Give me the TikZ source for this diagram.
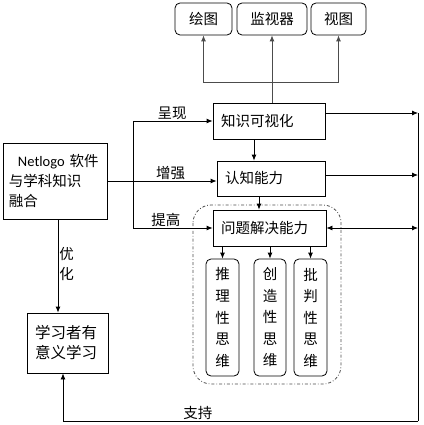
\documentclass[tikz,border=0pt]{standalone}
\usepackage{fontspec}
\setmainfont{Noto Sans CJK SC}
\newfontfamily\latinfont{Carlito}
\usetikzlibrary{arrows.meta}

\begin{document}
\begin{tikzpicture}[x=1pt, y=-1pt, line width=0.8pt, >={Latex[length=6pt, width=5pt]},
	font=\fontsize{14.5}{20}\selectfont,
	box/.style={draw, inner xsep=8pt, inner ysep=0pt, align=left},
	rbox/.style={draw, rounded corners=5pt, minimum height=32pt, inner sep=0pt},
	vbox/.style={draw, rounded corners=5pt, minimum width=33pt, minimum height=117pt,
		inner sep=0pt, align=center, font=\fontsize{14.5}{21.5}\selectfont},
	lbl/.style={inner sep=1pt}]
	\useasboundingbox (0,0) rectangle (423,425);
	
	\node[rbox, minimum width=57pt] (huitu) at (203.5,19) {绘图};
	\node[rbox, minimum width=70pt] (jianshi) at (272,19) {监视器};
	\node[rbox, minimum width=55pt] (shitu) at (338.5,19) {视图};
	\node[box, text width=96pt, minimum height=36pt] (keshi) at (269,121) {知识可视化};
	\node[box, text width=92pt, minimum height=35pt] (renzhi) at (271,178.5) {认知能力};
	\node[box, text width=97pt, minimum height=36pt] (wenti) at (269.5,228) {问题解决能力};
	\node[box, inner xsep=6pt, text width=92pt, minimum height=76pt] (ronghe) at (55,181)
		{\mbox{\hspace*{9pt}{\latinfont Netlogo} 软件}\\与学科知识\\融合};
	\node[box, text width=65pt, minimum height=60pt, font=\fontsize{15.5}{20}\selectfont]
		(xuexi) at (67.5,343) {学习者有\\意义学习};
	\node[vbox] (tuili) at (222.5,317.5) {推\\理\\性\\思\\维};
	\node[vbox, minimum width=32pt] (chuangzao) at (270,317.5) {创\\造\\性\\思\\维};
	\node[vbox] (pipan) at (310.5,317.5) {批\\判\\性\\思\\维};
	
	\draw[dashdotted, rounded corners=18pt, black!70] (193,205) rectangle (341,384);
	
	\coordinate (fenzhi) at (272,82);
	\coordinate (cha) at (133,181);
	\coordinate (guishang) at (418,113);
	\coordinate (guixia) at (418,421);
	
	% top
	\draw[black!70] (keshi.north -| fenzhi) -- (fenzhi);
	\draw[->, black!70] (fenzhi) -| (huitu.south);
	\draw[->, black!70] (fenzhi) -| (shitu.south);
	\draw[->, black!70] (fenzhi) -- (jianshi.south);
	
	\draw[->] ([xshift=-15pt]keshi.south) -- ([xshift=-15pt]keshi.south |- renzhi.north);
	\draw[->] ([xshift=-12pt]renzhi.south) -- ([xshift=-12pt]renzhi.south |- wenti.north);
	\draw[->] (wenti.south -| tuili) -- (tuili.north);
	\draw[->] (wenti.south -| chuangzao) -- (chuangzao.north);
	\draw[->] (wenti.south -| pipan) -- (pipan.north);
	
	% left
	\draw[->] (ronghe.east) -- (ronghe.east -| renzhi.west) node[lbl, pos=0.58, above] {增强};
	\draw[->] (cha) |- (keshi.west) node[lbl, pos=0.745, above] {呈现};
	\draw[->] (cha) |- (wenti.west) node[lbl, pos=0.706, above] {提高};
	\draw[->] ([xshift=3pt]ronghe.south) -- ([xshift=3pt]ronghe.south |- xuexi.north)
		node[lbl, pos=0.48, right, align=left] {优\\化};
	
	% right
	\draw (guishang) -- (guixia);
	\draw[->] ([yshift=8pt]keshi.east) -- (guishang);
	\draw[->] ([yshift=3.5pt]renzhi.east) -- ([yshift=3.5pt]renzhi.east -| guishang);
	\draw[<->] (wenti.east) -- (wenti.east -| guishang);
	\draw[->] (guixia) -| ([xshift=-4.5pt]xuexi.south) node[lbl, pos=0.31, above] {支持};
\end{tikzpicture}
\end{document}
